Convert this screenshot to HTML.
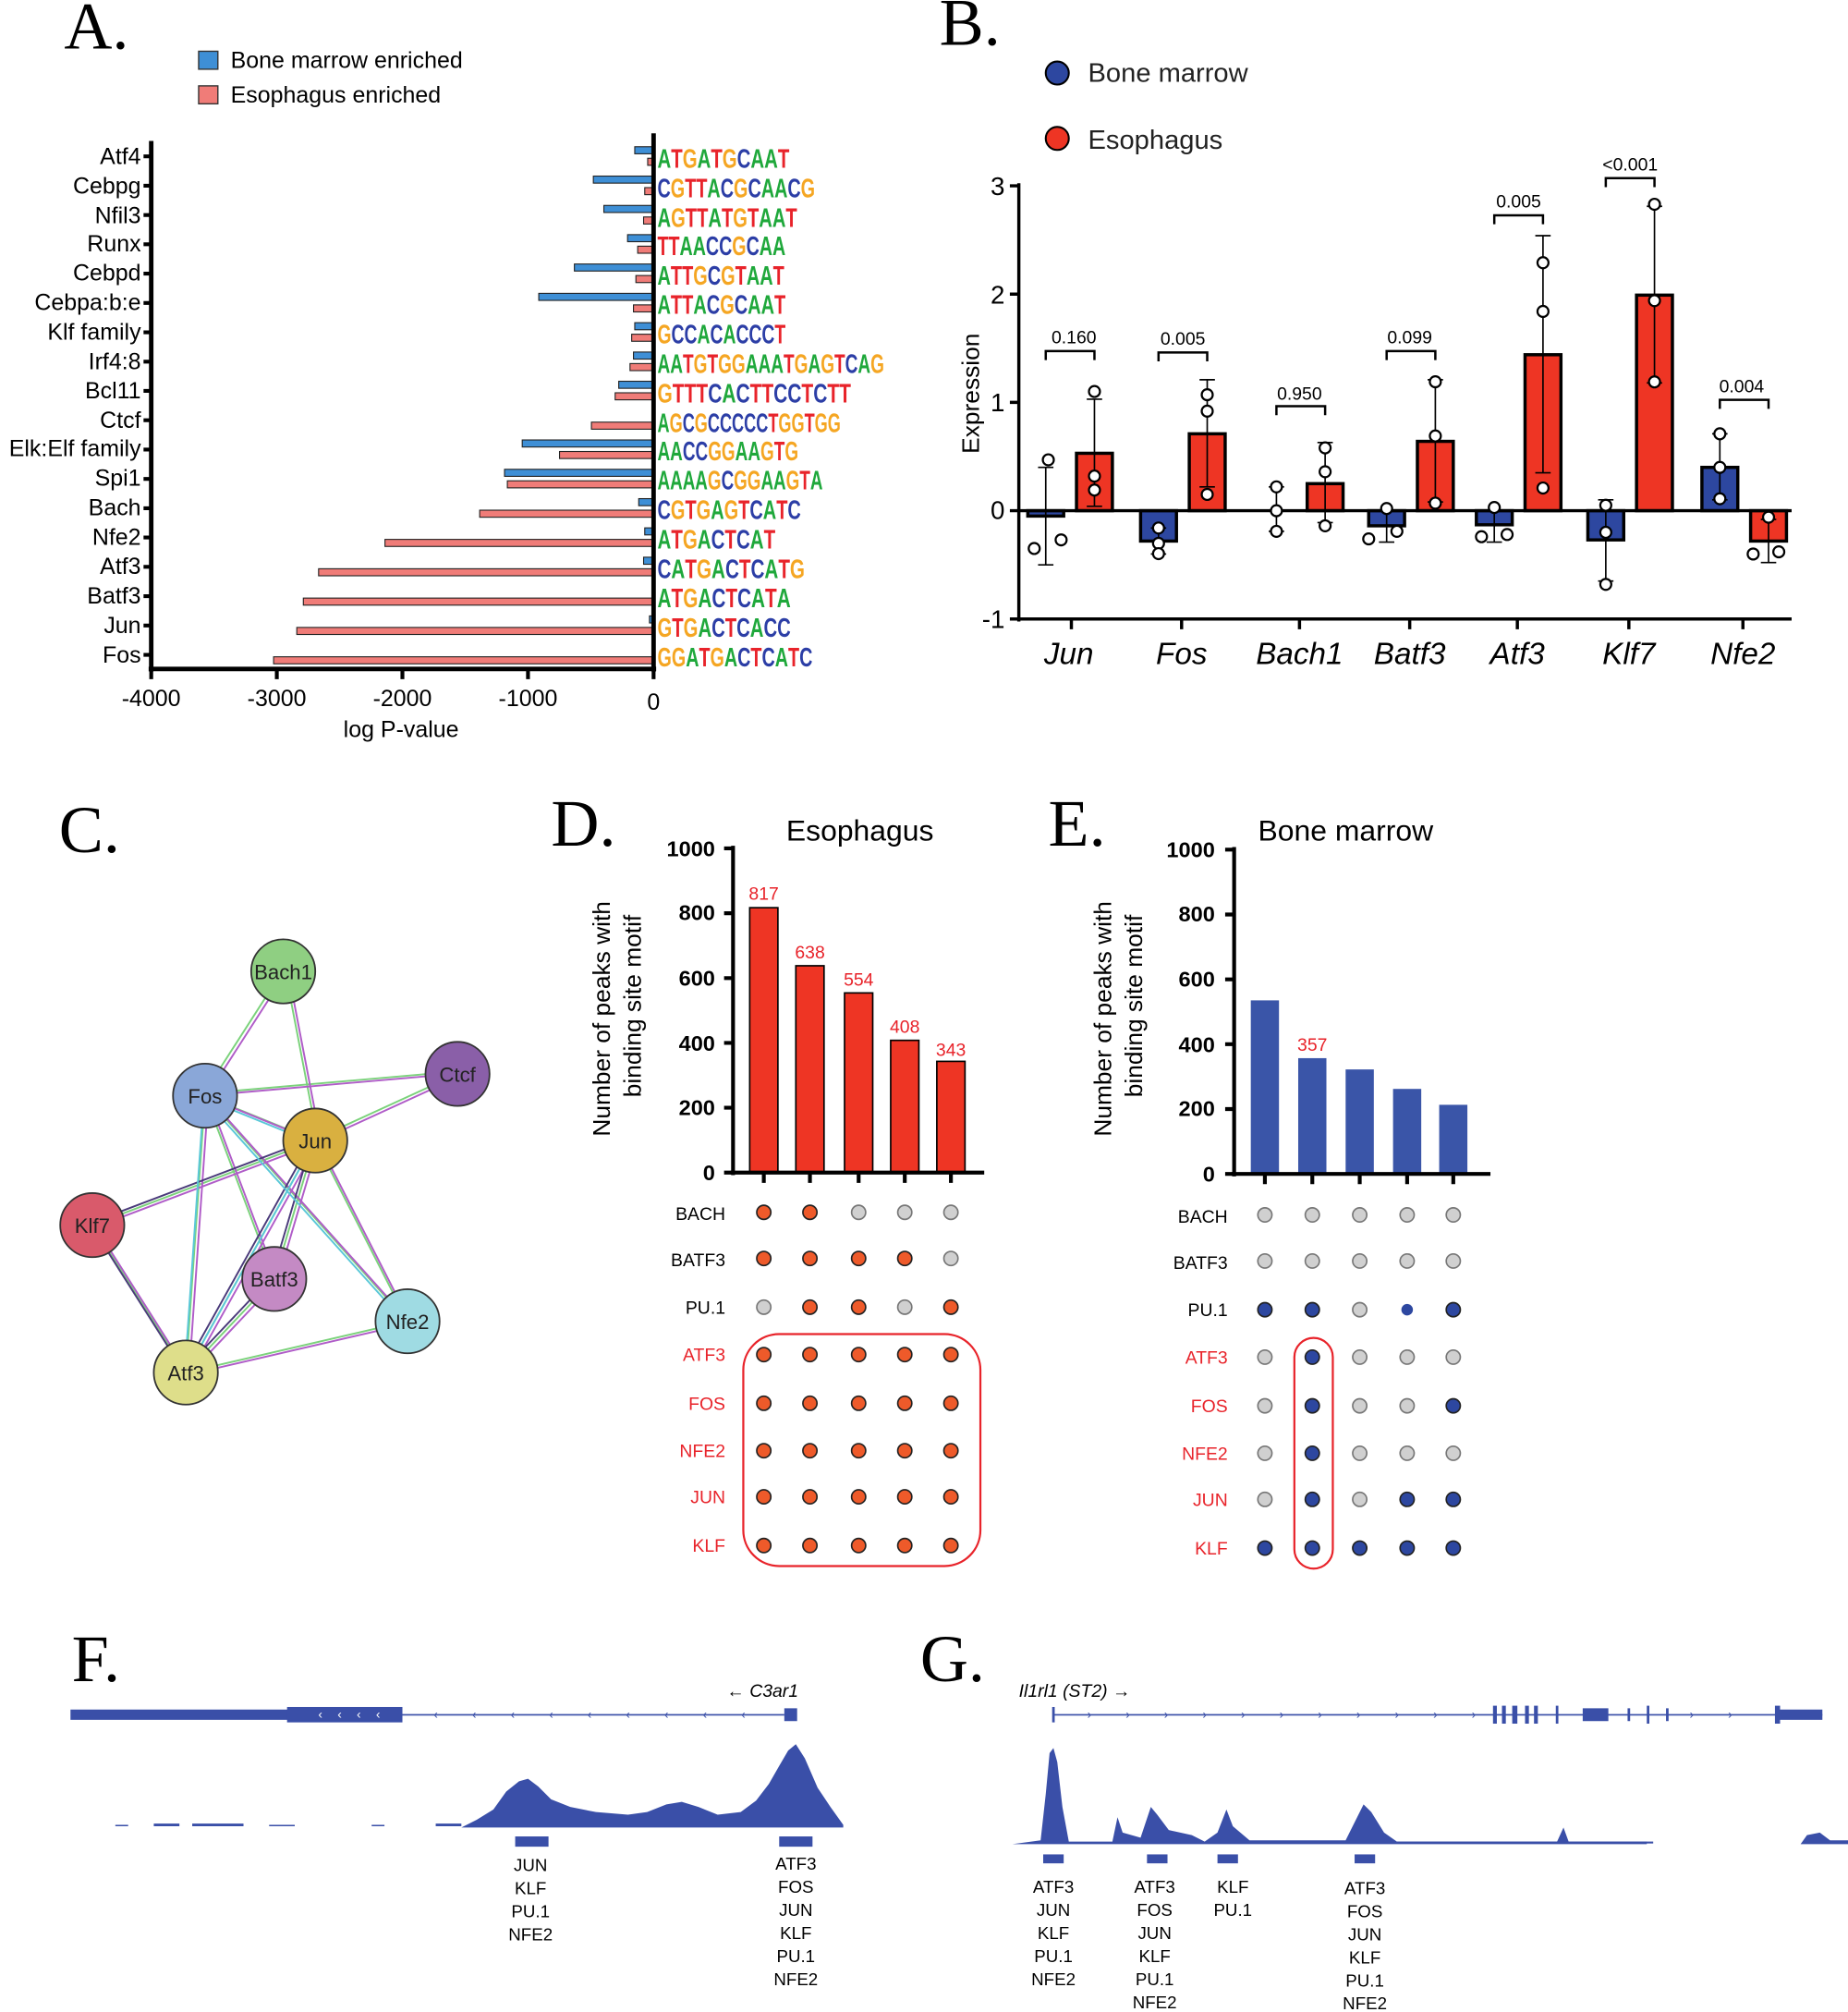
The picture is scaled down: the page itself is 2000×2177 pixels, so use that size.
<!DOCTYPE html>
<html><head><meta charset="utf-8"><style>
html,body{margin:0;padding:0;background:#fff}
svg{display:block}
text{font-family:"Liberation Sans",Arial,sans-serif}
.serif{font-family:"Liberation Serif",serif}
</style></head><body>
<svg width="2000" height="2177" viewBox="0 0 1442 1570" preserveAspectRatio="none" xmlns="http://www.w3.org/2000/svg">
<rect width="1442" height="1570" fill="#fff"/>
<!-- ===== Panel A ===== -->
<text x="50" y="38" class="serif" font-size="52">A.</text>
<rect x="155" y="40" width="15" height="14" fill="#3e8fd6" stroke="#333"/>
<text x="180" y="53" font-size="18">Bone marrow enriched</text>
<rect x="155" y="67" width="15" height="14" fill="#f07c78" stroke="#333"/>
<text x="180" y="80" font-size="18">Esophagus enriched</text>
<g stroke="#222" stroke-width="0.8">
<g fill="#3e8fd6">
<rect x="495.3" y="114.5" width="14.7" height="5.5"/>
<rect x="463" y="137.4" width="47" height="5.5"/>
<rect x="471.2" y="160.3" width="38.8" height="5.5"/>
<rect x="489.7" y="183.1" width="20.3" height="5.5"/>
<rect x="448.2" y="206" width="61.8" height="5.5"/>
<rect x="420.4" y="228.9" width="89.6" height="5.5"/>
<rect x="495.3" y="251.8" width="14.7" height="5.5"/>
<rect x="494.3" y="274.7" width="15.7" height="5.5"/>
<rect x="482.8" y="297.5" width="27.2" height="5.5"/>
<rect x="407.5" y="343.3" width="102.5" height="5.5"/>
<rect x="393.7" y="366.2" width="116.3" height="5.5"/>
<rect x="498.4" y="389.1" width="11.6" height="5.5"/>
<rect x="503.1" y="411.9" width="6.9" height="5.5"/>
<rect x="502.2" y="434.8" width="7.8" height="5.5"/>
<rect x="506.8" y="480.6" width="3.2" height="5.5"/>
</g>
<g fill="#f07c78">
<rect x="505.4" y="123.5" width="4.6" height="5.5"/>
<rect x="503.1" y="146.4" width="6.9" height="5.5"/>
<rect x="502.2" y="169.3" width="7.8" height="5.5"/>
<rect x="497.6" y="192.1" width="12.4" height="5.5"/>
<rect x="496.2" y="215" width="13.8" height="5.5"/>
<rect x="494.3" y="237.9" width="15.7" height="5.5"/>
<rect x="492.9" y="260.8" width="17.1" height="5.5"/>
<rect x="491.6" y="283.7" width="18.4" height="5.5"/>
<rect x="480" y="306.5" width="30" height="5.5"/>
<rect x="461.5" y="329.4" width="48.5" height="5.5"/>
<rect x="436.6" y="352.3" width="73.4" height="5.5"/>
<rect x="395.9" y="375.2" width="114.1" height="5.5"/>
<rect x="374.3" y="398.1" width="135.7" height="5.5"/>
<rect x="300.4" y="420.9" width="209.6" height="5.5"/>
<rect x="248.6" y="443.8" width="261.4" height="5.5"/>
<rect x="236.7" y="466.7" width="273.3" height="5.5"/>
<rect x="231.6" y="489.6" width="278.4" height="5.5"/>
<rect x="213.5" y="512.5" width="296.5" height="5.5"/>
</g></g>
<g stroke="#000" stroke-width="3.5">
<line x1="118" y1="110" x2="118" y2="524"/>
<line x1="116" y1="522" x2="512" y2="522"/>
<line x1="510" y1="104" x2="510" y2="524"/>
</g>
<g stroke="#000" stroke-width="3">
<path d="M112 122h6M112 144.9h6M112 167.8h6M112 190.6h6M112 213.5h6M112 236.4h6M112 259.3h6M112 282.2h6M112 305h6M112 327.9h6M112 350.8h6M112 373.7h6M112 396.6h6M112 419.4h6M112 442.3h6M112 465.2h6M112 488.1h6M112 511h6"/>
<path d="M118 522v8M216 522v8M314 522v8M412 522v8M510 522v8"/>
</g>
<g font-size="18" text-anchor="end">
<text x="110" y="128">Atf4</text><text x="110" y="151">Cebpg</text><text x="110" y="174">Nfil3</text><text x="110" y="196">Runx</text><text x="110" y="219">Cebpd</text><text x="110" y="242">Cebpa:b:e</text><text x="110" y="265">Klf family</text><text x="110" y="288">Irf4:8</text><text x="110" y="311">Bcl11</text><text x="110" y="334">Ctcf</text><text x="110" y="356">Elk:Elf family</text><text x="110" y="379">Spi1</text><text x="110" y="402">Bach</text><text x="110" y="425">Nfe2</text><text x="110" y="448">Atf3</text><text x="110" y="471">Batf3</text><text x="110" y="494">Jun</text><text x="110" y="517">Fos</text>
</g>
<g font-size="18" text-anchor="middle">
<text x="118" y="551">-4000</text><text x="216" y="551">-3000</text><text x="314" y="551">-2000</text><text x="412" y="551">-1000</text><text x="510" y="554">0</text>
<text x="313" y="575">log P-value</text>
</g>
<!-- motif logos -->
<style>.lg{font-weight:bold;font-size:21px}.A{fill:#1fa83b}.C{fill:#2c3ea6}.G{fill:#f5a623}.T{fill:#e8232a}</style>
<g class="lg" lengthAdjust="spacingAndGlyphs">
<text x="513" y="131" textLength="103" lengthAdjust="spacingAndGlyphs"><tspan class="A">A</tspan><tspan class="T">T</tspan><tspan class="G">G</tspan><tspan class="A">A</tspan><tspan class="T">T</tspan><tspan class="G">G</tspan><tspan class="C">C</tspan><tspan class="A">AA</tspan><tspan class="T">T</tspan></text>
<text x="513" y="154" textLength="123" lengthAdjust="spacingAndGlyphs"><tspan class="C">C</tspan><tspan class="G">G</tspan><tspan class="T">TT</tspan><tspan class="A">A</tspan><tspan class="C">C</tspan><tspan class="G">G</tspan><tspan class="C">C</tspan><tspan class="A">AA</tspan><tspan class="C">C</tspan><tspan class="G">G</tspan></text>
<text x="513" y="177" textLength="109" lengthAdjust="spacingAndGlyphs"><tspan class="A">A</tspan><tspan class="G">G</tspan><tspan class="T">TT</tspan><tspan class="A">A</tspan><tspan class="T">T</tspan><tspan class="G">G</tspan><tspan class="T">T</tspan><tspan class="A">AA</tspan><tspan class="T">T</tspan></text>
<text x="513" y="199" textLength="100" lengthAdjust="spacingAndGlyphs"><tspan class="T">TT</tspan><tspan class="A">AA</tspan><tspan class="C">CC</tspan><tspan class="G">G</tspan><tspan class="C">C</tspan><tspan class="A">AA</tspan></text>
<text x="513" y="222" textLength="99" lengthAdjust="spacingAndGlyphs"><tspan class="A">A</tspan><tspan class="T">TT</tspan><tspan class="G">G</tspan><tspan class="C">C</tspan><tspan class="G">G</tspan><tspan class="T">T</tspan><tspan class="A">AA</tspan><tspan class="T">T</tspan></text>
<text x="513" y="245" textLength="100" lengthAdjust="spacingAndGlyphs"><tspan class="A">A</tspan><tspan class="T">TT</tspan><tspan class="A">A</tspan><tspan class="C">C</tspan><tspan class="G">G</tspan><tspan class="C">C</tspan><tspan class="A">AA</tspan><tspan class="T">T</tspan></text>
<text x="513" y="268" textLength="100" lengthAdjust="spacingAndGlyphs"><tspan class="G">G</tspan><tspan class="C">CC</tspan><tspan class="A">A</tspan><tspan class="C">C</tspan><tspan class="A">A</tspan><tspan class="C">CCC</tspan><tspan class="T">T</tspan></text>
<text x="513" y="291" textLength="177" lengthAdjust="spacingAndGlyphs"><tspan class="A">AA</tspan><tspan class="T">T</tspan><tspan class="G">G</tspan><tspan class="T">T</tspan><tspan class="G">GG</tspan><tspan class="A">AAA</tspan><tspan class="T">T</tspan><tspan class="G">G</tspan><tspan class="A">A</tspan><tspan class="G">G</tspan><tspan class="T">T</tspan><tspan class="C">C</tspan><tspan class="A">A</tspan><tspan class="G">G</tspan></text>
<text x="513" y="314" textLength="151" lengthAdjust="spacingAndGlyphs"><tspan class="G">G</tspan><tspan class="T">TTT</tspan><tspan class="C">C</tspan><tspan class="A">A</tspan><tspan class="C">C</tspan><tspan class="T">TT</tspan><tspan class="C">CC</tspan><tspan class="T">T</tspan><tspan class="C">C</tspan><tspan class="T">TT</tspan></text>
<text x="513" y="337" textLength="143" lengthAdjust="spacingAndGlyphs"><tspan class="A">A</tspan><tspan class="G">G</tspan><tspan class="C">C</tspan><tspan class="G">G</tspan><tspan class="C">CCCC</tspan><tspan class="C">C</tspan><tspan class="T">T</tspan><tspan class="G">GG</tspan><tspan class="T">T</tspan><tspan class="G">GG</tspan></text>
<text x="513" y="359" textLength="110" lengthAdjust="spacingAndGlyphs"><tspan class="A">AA</tspan><tspan class="C">CC</tspan><tspan class="G">GG</tspan><tspan class="A">AA</tspan><tspan class="G">G</tspan><tspan class="T">T</tspan><tspan class="G">G</tspan></text>
<text x="513" y="382" textLength="129" lengthAdjust="spacingAndGlyphs"><tspan class="A">AAAA</tspan><tspan class="G">G</tspan><tspan class="C">C</tspan><tspan class="G">GG</tspan><tspan class="A">AA</tspan><tspan class="G">G</tspan><tspan class="T">T</tspan><tspan class="A">A</tspan></text>
<text x="513" y="405" textLength="112" lengthAdjust="spacingAndGlyphs"><tspan class="C">C</tspan><tspan class="G">G</tspan><tspan class="T">T</tspan><tspan class="G">G</tspan><tspan class="A">A</tspan><tspan class="G">G</tspan><tspan class="T">T</tspan><tspan class="C">C</tspan><tspan class="A">A</tspan><tspan class="T">T</tspan><tspan class="C">C</tspan></text>
<text x="513" y="428" textLength="92" lengthAdjust="spacingAndGlyphs"><tspan class="A">A</tspan><tspan class="T">T</tspan><tspan class="G">G</tspan><tspan class="A">A</tspan><tspan class="C">C</tspan><tspan class="T">T</tspan><tspan class="C">C</tspan><tspan class="A">A</tspan><tspan class="T">T</tspan></text>
<text x="513" y="451" textLength="115" lengthAdjust="spacingAndGlyphs"><tspan class="C">C</tspan><tspan class="A">A</tspan><tspan class="T">T</tspan><tspan class="G">G</tspan><tspan class="A">A</tspan><tspan class="C">C</tspan><tspan class="T">T</tspan><tspan class="C">C</tspan><tspan class="A">A</tspan><tspan class="T">T</tspan><tspan class="G">G</tspan></text>
<text x="513" y="474" textLength="104" lengthAdjust="spacingAndGlyphs"><tspan class="A">A</tspan><tspan class="T">T</tspan><tspan class="G">G</tspan><tspan class="A">A</tspan><tspan class="C">C</tspan><tspan class="T">T</tspan><tspan class="C">C</tspan><tspan class="A">A</tspan><tspan class="T">T</tspan><tspan class="A">A</tspan></text>
<text x="513" y="497" textLength="104" lengthAdjust="spacingAndGlyphs"><tspan class="G">G</tspan><tspan class="T">T</tspan><tspan class="G">G</tspan><tspan class="A">A</tspan><tspan class="C">C</tspan><tspan class="T">T</tspan><tspan class="C">C</tspan><tspan class="A">A</tspan><tspan class="C">CC</tspan></text>
<text x="513" y="520" textLength="121" lengthAdjust="spacingAndGlyphs"><tspan class="G">GG</tspan><tspan class="A">A</tspan><tspan class="T">T</tspan><tspan class="G">G</tspan><tspan class="A">A</tspan><tspan class="C">C</tspan><tspan class="T">T</tspan><tspan class="C">C</tspan><tspan class="A">A</tspan><tspan class="T">T</tspan><tspan class="C">C</tspan></text>
</g>

<!-- ===== Panel B ===== -->
<text x="733" y="35" class="serif" font-size="52">B.</text>
<circle cx="825" cy="57" r="9" fill="#2d47a0" stroke="#000" stroke-width="1.5"/>
<text x="849" y="64" font-size="21" fill="#222">Bone marrow</text>
<circle cx="825" cy="108" r="9" fill="#ee3524" stroke="#000" stroke-width="1.5"/>
<text x="849" y="116" font-size="21" fill="#222">Esophagus</text>
<g stroke="#000" stroke-width="2.5" fill="#2d47a0">
<rect x="802" y="398.5" width="28" height="4.2"/>
<rect x="890" y="398.5" width="28" height="23.7"/>
<rect x="1068" y="398.5" width="28" height="11.8"/>
<rect x="1152" y="398.5" width="28" height="11"/>
<rect x="1239" y="398.5" width="28" height="22.8"/>
<rect x="1328" y="364.7" width="28" height="33.8"/>
</g>
<g stroke="#000" stroke-width="2.5" fill="#ee3524">
<rect x="840" y="353.7" width="28" height="44.8"/>
<rect x="928" y="338.5" width="28" height="60"/>
<rect x="1020" y="377.4" width="28" height="21.1"/>
<rect x="1106" y="344.4" width="28" height="54.1"/>
<rect x="1190" y="276.8" width="28" height="121.7"/>
<rect x="1277" y="230.3" width="28" height="168.2"/>
<rect x="1366" y="398.5" width="28" height="23.7"/>
</g>
<g stroke="#000" stroke-width="2.5">
<line x1="795" y1="143" x2="795" y2="485"/>
<line x1="793" y1="483" x2="1398" y2="483"/>
<line x1="795" y1="398.5" x2="1398" y2="398.5"/>
<path d="M788 145h7M788 229.5h7M788 314h7M788 398.5h7M788 483h7"/>
<path d="M836 483v8M922 483v8M1014 483v8M1100 483v8M1184 483v8M1271 483v8M1360 483v8"/>
</g>
<g font-size="20" text-anchor="end">
<text x="784" y="152">3</text><text x="784" y="237">2</text><text x="784" y="321">1</text><text x="784" y="405">0</text><text x="784" y="490">-1</text>
</g>
<text x="764" y="307" font-size="19" text-anchor="middle" transform="rotate(-90 764 307)">Expression</text>
<g font-size="24" font-style="italic" text-anchor="middle">
<text x="834" y="518">Jun</text><text x="922" y="518">Fos</text><text x="1014" y="518">Bach1</text><text x="1100" y="518">Batf3</text><text x="1184" y="518">Atf3</text><text x="1271" y="518">Klf7</text><text x="1360" y="518">Nfe2</text>
</g>
<g stroke="#000" stroke-width="1.2" fill="none">
<path d="M816 440.8V364.7M810 440.8h12M810 364.7h12"/>
<path d="M854 395.1V311.5M848 395.1h12M848 311.5h12"/>
<path d="M904 432.3V412M898 432.3h12M898 412h12"/>
<path d="M942 379.9V296.3M936 379.9h12M936 296.3h12"/>
<path d="M996 414.6V379.9M990 414.6h12M990 379.9h12"/>
<path d="M1034 407.8V345.3M1028 407.8h12M1028 345.3h12"/>
<path d="M1082 423V398.5M1076 423h12"/>
<path d="M1120 391.7V296.3M1114 391.7h12M1114 296.3h12"/>
<path d="M1166 423V398.5M1160 423h12"/>
<path d="M1204 368.9V183.9M1198 368.9h12M1198 183.9h12"/>
<path d="M1253 453.4V390M1247 453.4h12M1247 390h12"/>
<path d="M1291 298.8V161M1285 298.8h12M1285 161h12"/>
<path d="M1342 390V338.5M1336 390h12M1336 338.5h12"/>
<path d="M1380 439V405.3M1374 439h12M1374 405.3h12"/>
</g>
<g stroke="#000" stroke-width="1.6" fill="#fff">
<circle cx="818" cy="358.8" r="4.3"/><circle cx="807" cy="428" r="4.3"/><circle cx="828" cy="421.3" r="4.3"/>
<circle cx="854" cy="305.5" r="4.3"/><circle cx="854" cy="371.5" r="4.3"/><circle cx="854" cy="382.4" r="4.3"/>
<circle cx="904" cy="412" r="4.3"/><circle cx="904" cy="424" r="4.3"/><circle cx="904" cy="432" r="4.3"/>
<circle cx="942" cy="308" r="4.3"/><circle cx="942" cy="320.8" r="4.3"/><circle cx="942" cy="385.8" r="4.3"/>
<circle cx="996" cy="379.9" r="4.3"/><circle cx="996" cy="398.5" r="4.3"/><circle cx="996" cy="414.6" r="4.3"/>
<circle cx="1034" cy="349.5" r="4.3"/><circle cx="1034" cy="368.1" r="4.3"/><circle cx="1034" cy="410.3" r="4.3"/>
<circle cx="1082" cy="396.8" r="4.3"/><circle cx="1068" cy="420.5" r="4.3"/><circle cx="1090" cy="414.6" r="4.3"/>
<circle cx="1120" cy="297.9" r="4.3"/><circle cx="1120" cy="340.2" r="4.3"/><circle cx="1120" cy="392.6" r="4.3"/>
<circle cx="1166" cy="396" r="4.3"/><circle cx="1156" cy="418.8" r="4.3"/><circle cx="1176" cy="417.1" r="4.3"/>
<circle cx="1204" cy="205" r="4.3"/><circle cx="1204" cy="243" r="4.3"/><circle cx="1204" cy="380.8" r="4.3"/>
<circle cx="1253" cy="394.3" r="4.3"/><circle cx="1253" cy="415.4" r="4.3"/><circle cx="1253" cy="456" r="4.3"/>
<circle cx="1291" cy="159.4" r="4.3"/><circle cx="1291" cy="234.6" r="4.3"/><circle cx="1291" cy="298" r="4.3"/>
<circle cx="1342" cy="338.5" r="4.3"/><circle cx="1342" cy="364.7" r="4.3"/><circle cx="1342" cy="389.2" r="4.3"/>
<circle cx="1380" cy="403.6" r="4.3"/><circle cx="1368" cy="432.3" r="4.3"/><circle cx="1388" cy="430.6" r="4.3"/>
</g>
<g stroke="#000" stroke-width="1.8" fill="none">
<path d="M816 281v-7h38v7"/><path d="M904 282v-7h38v7"/><path d="M996 324v-7h38v7"/><path d="M1082 281v-7h38v7"/><path d="M1166 175v-7h38v7"/><path d="M1253 146v-7h38v7"/><path d="M1342 319v-7h38v7"/>
</g>
<g font-size="14" text-anchor="middle">
<text x="838" y="268">0.160</text><text x="923" y="269">0.005</text><text x="1014" y="312">0.950</text><text x="1100" y="268">0.099</text><text x="1185" y="162">0.005</text><text x="1272" y="133">&lt;0.001</text><text x="1359" y="306">0.004</text>
</g>

<!-- ===== Panel C ===== -->
<text x="46" y="665" class="serif" font-size="52">C.</text>
<g fill="none" stroke-width="1.4">
<g stroke="#7bd27b">
<path d="M219 760L158 855M223 760L248 890M162 853L357 836M248 888L357 838M160 855L246 890M160 855L214 998M160 855L145 1071M160 855L318 1031M246 890L72 956M246 890L214 998M246 890L145 1071M246 890L318 1031M72 956L145 1071M214 998L145 1071M145 1071L318 1031"/>
</g>
<g stroke="#b05cc8" transform="translate(2.5,1.5)">
<path d="M219 760L158 855M223 760L248 890M162 853L357 836M248 888L357 838M160 855L246 890M160 855L214 998M160 855L145 1071M160 855L318 1031M246 890L72 956M246 890L214 998M246 890L145 1071M246 890L318 1031M72 956L145 1071M214 998L145 1071M145 1071L318 1031"/>
</g>
<g stroke="#4a3a7a" transform="translate(-2,-1.5)">
<path d="M246 890L72 956M246 890L214 998M246 890L145 1071M72 956L145 1071M214 998L145 1071"/>
</g>
<g stroke="#5ac8d8" transform="translate(-1,2)">
<path d="M160 855L246 890M160 855L145 1071M246 890L145 1071M160 855L318 1031"/>
</g>
</g>
<g stroke="#333" stroke-width="1.3" font-size="16" text-anchor="middle">
<circle cx="221" cy="758" r="25" fill="#8fcf82"/>
<circle cx="357" cy="838" r="25" fill="#8a5fa8"/>
<circle cx="160" cy="855" r="25" fill="#8aa7d8"/>
<circle cx="246" cy="890" r="25" fill="#d9b040"/>
<circle cx="72" cy="956" r="25" fill="#d95a6b"/>
<circle cx="214" cy="998" r="25" fill="#c48ac4"/>
<circle cx="318" cy="1031" r="25" fill="#9fdbe3"/>
<circle cx="145" cy="1071" r="25" fill="#dede8a"/>
</g>
<g font-size="16" text-anchor="middle" fill="#222">
<text x="221" y="764">Bach1</text><text x="357" y="844">Ctcf</text><text x="160" y="861">Fos</text><text x="246" y="896">Jun</text><text x="72" y="962">Klf7</text><text x="214" y="1004">Batf3</text><text x="318" y="1037">Nfe2</text><text x="145" y="1077">Atf3</text>
</g>

<!-- ===== Panel D ===== -->
<text x="430" y="660" class="serif" font-size="52">D.</text>
<text x="671" y="656" font-size="23" text-anchor="middle">Esophagus</text>
<text x="476" y="795" font-size="19" text-anchor="middle" transform="rotate(-90 476 795)">Number of peaks with</text>
<text x="500" y="785" font-size="19" text-anchor="middle" transform="rotate(-90 500 785)">binding site motif</text>
<g font-size="17" font-weight="bold" text-anchor="end">
<text x="558" y="668">1000</text><text x="558" y="718">800</text><text x="558" y="769">600</text><text x="558" y="820">400</text><text x="558" y="870">200</text><text x="558" y="921">0</text>
</g>
<g fill="#ee3524" stroke="#000" stroke-width="1.2">
<rect x="585" y="708.3" width="22" height="206.7"/>
<rect x="621" y="753.6" width="22" height="161.4"/>
<rect x="659" y="774.8" width="22" height="140.2"/>
<rect x="695" y="811.8" width="22" height="103.2"/>
<rect x="731" y="828.2" width="22" height="86.8"/>
</g>
<g font-size="14" fill="#e8232a" text-anchor="middle">
<text x="596" y="702">817</text><text x="632" y="748">638</text><text x="670" y="769">554</text><text x="706" y="806">408</text><text x="742" y="824">343</text>
</g>
<g stroke="#000" stroke-width="3">
<line x1="572" y1="660" x2="572" y2="917"/><line x1="570" y1="915" x2="768" y2="915"/>
<path d="M565 662h7M565 712.6h7M565 763.2h7M565 813.8h7M565 864.4h7M565 915h7M596 915v8M632 915v8M670 915v8M706 915v8M742 915v8"/>
</g>
<g font-size="14" text-anchor="end">
<text x="566" y="952">BACH</text><text x="566" y="988">BATF3</text><text x="566" y="1025">PU.1</text>
<g fill="#e8232a"><text x="566" y="1062">ATF3</text><text x="566" y="1100">FOS</text><text x="566" y="1137">NFE2</text><text x="566" y="1173">JUN</text><text x="566" y="1211">KLF</text></g>
</g>
<g stroke="#222" stroke-width="1.2">
<g fill="#ee5a2a">
<circle cx="596" cy="946" r="5.5"/><circle cx="632" cy="946" r="5.5"/>
<circle cx="596" cy="982" r="5.5"/><circle cx="632" cy="982" r="5.5"/><circle cx="670" cy="982" r="5.5"/><circle cx="706" cy="982" r="5.5"/>
<circle cx="632" cy="1020" r="5.5"/><circle cx="670" cy="1020" r="5.5"/><circle cx="742" cy="1020" r="5.5"/>
<circle cx="596" cy="1057" r="5.5"/><circle cx="632" cy="1057" r="5.5"/><circle cx="670" cy="1057" r="5.5"/><circle cx="706" cy="1057" r="5.5"/><circle cx="742" cy="1057" r="5.5"/>
<circle cx="596" cy="1095" r="5.5"/><circle cx="632" cy="1095" r="5.5"/><circle cx="670" cy="1095" r="5.5"/><circle cx="706" cy="1095" r="5.5"/><circle cx="742" cy="1095" r="5.5"/>
<circle cx="596" cy="1132" r="5.5"/><circle cx="632" cy="1132" r="5.5"/><circle cx="670" cy="1132" r="5.5"/><circle cx="706" cy="1132" r="5.5"/><circle cx="742" cy="1132" r="5.5"/>
<circle cx="596" cy="1168" r="5.5"/><circle cx="632" cy="1168" r="5.5"/><circle cx="670" cy="1168" r="5.5"/><circle cx="706" cy="1168" r="5.5"/><circle cx="742" cy="1168" r="5.5"/>
<circle cx="596" cy="1206" r="5.5"/><circle cx="632" cy="1206" r="5.5"/><circle cx="670" cy="1206" r="5.5"/><circle cx="706" cy="1206" r="5.5"/><circle cx="742" cy="1206" r="5.5"/>
</g>
<g fill="#d0d0d0" stroke="#777">
<circle cx="670" cy="946" r="5.5"/><circle cx="706" cy="946" r="5.5"/><circle cx="742" cy="946" r="5.5"/>
<circle cx="742" cy="982" r="5.5"/><circle cx="596" cy="1020" r="5.5"/><circle cx="706" cy="1020" r="5.5"/>
</g></g>
<rect x="580" y="1041" width="185" height="181" rx="28" fill="none" stroke="#e8232a" stroke-width="1.6"/>

<!-- ===== Panel E ===== -->
<text x="818" y="660" class="serif" font-size="52">E.</text>
<text x="1050" y="656" font-size="23" text-anchor="middle">Bone marrow</text>
<text x="867" y="795" font-size="19" text-anchor="middle" transform="rotate(-90 867 795)">Number of peaks with</text>
<text x="891" y="785" font-size="19" text-anchor="middle" transform="rotate(-90 891 785)">binding site motif</text>
<g font-size="17" font-weight="bold" text-anchor="end">
<text x="948" y="669">1000</text><text x="948" y="719">800</text><text x="948" y="770">600</text><text x="948" y="821">400</text><text x="948" y="871">200</text><text x="948" y="922">0</text>
</g>
<g fill="#3a55a8">
<rect x="976" y="780.6" width="22" height="135.4"/>
<rect x="1013" y="825.7" width="22" height="90.3"/>
<rect x="1050" y="834.5" width="22" height="81.5"/>
<rect x="1087" y="849.7" width="22" height="66.3"/>
<rect x="1123" y="862.1" width="22" height="53.9"/>
</g>
<text x="1024" y="820" font-size="14" fill="#e8232a" text-anchor="middle">357</text>
<g stroke="#000" stroke-width="3">
<line x1="963" y1="661" x2="963" y2="918"/><line x1="961" y1="916" x2="1163" y2="916"/>
<path d="M956 663h7M956 713.6h7M956 764.2h7M956 814.8h7M956 865.4h7M956 916h7M987 916v8M1024 916v8M1061 916v8M1098 916v8M1134 916v8"/>
</g>
<g font-size="14" text-anchor="end">
<text x="958" y="954">BACH</text><text x="958" y="990">BATF3</text><text x="958" y="1027">PU.1</text>
<g fill="#e8232a"><text x="958" y="1064">ATF3</text><text x="958" y="1102">FOS</text><text x="958" y="1139">NFE2</text><text x="958" y="1175">JUN</text><text x="958" y="1213">KLF</text></g>
</g>
<g stroke="#222" stroke-width="1.2">
<g fill="#d0d0d0" stroke="#777">
<circle cx="987" cy="948" r="5.5"/><circle cx="1024" cy="948" r="5.5"/><circle cx="1061" cy="948" r="5.5"/><circle cx="1098" cy="948" r="5.5"/><circle cx="1134" cy="948" r="5.5"/>
<circle cx="987" cy="984" r="5.5"/><circle cx="1024" cy="984" r="5.5"/><circle cx="1061" cy="984" r="5.5"/><circle cx="1098" cy="984" r="5.5"/><circle cx="1134" cy="984" r="5.5"/>
<circle cx="1061" cy="1022" r="5.5"/>
<circle cx="987" cy="1059" r="5.5"/><circle cx="1061" cy="1059" r="5.5"/><circle cx="1098" cy="1059" r="5.5"/><circle cx="1134" cy="1059" r="5.5"/>
<circle cx="987" cy="1097" r="5.5"/><circle cx="1061" cy="1097" r="5.5"/><circle cx="1098" cy="1097" r="5.5"/>
<circle cx="987" cy="1134" r="5.5"/><circle cx="1061" cy="1134" r="5.5"/><circle cx="1098" cy="1134" r="5.5"/><circle cx="1134" cy="1134" r="5.5"/>
<circle cx="987" cy="1170" r="5.5"/><circle cx="1061" cy="1170" r="5.5"/>
</g>
<g fill="#2d47a0">
<circle cx="987" cy="1022" r="5.5"/><circle cx="1024" cy="1022" r="5.5"/><circle cx="1134" cy="1022" r="5.5"/>
<circle cx="1024" cy="1059" r="5.5"/>
<circle cx="1024" cy="1097" r="5.5"/><circle cx="1134" cy="1097" r="5.5"/>
<circle cx="1024" cy="1134" r="5.5"/>
<circle cx="1024" cy="1170" r="5.5"/><circle cx="1098" cy="1170" r="5.5"/><circle cx="1134" cy="1170" r="5.5"/>
<circle cx="987" cy="1208" r="5.5"/><circle cx="1024" cy="1208" r="5.5"/><circle cx="1061" cy="1208" r="5.5"/><circle cx="1098" cy="1208" r="5.5"/><circle cx="1134" cy="1208" r="5.5"/>
</g>
<circle cx="1098" cy="1022" r="4.5" fill="#2d47a0" stroke="none"/>
</g>
<rect x="1010" y="1044" width="30" height="180" rx="15" fill="none" stroke="#e8232a" stroke-width="1.6"/>

<!-- ===== Panel F ===== -->
<text x="56" y="1312" class="serif" font-size="52">F.</text>
<text x="567" y="1324" font-size="14" font-style="italic">← C3ar1</text>
<g fill="#3a4fa8" stroke="none">
<rect x="55" y="1334" width="170" height="8"/>
<rect x="224" y="1332" width="90" height="12"/>
<rect x="314" y="1337.5" width="298" height="1.2"/>
<rect x="612" y="1333" width="10" height="10"/>
<path d="M90 1425h10v-1h-10zM120 1425h20v-2h-20zM150 1425h40v-2h-40zM210 1425h20v-1h-20zM290 1425h10v-1h-10zM340 1425h20v-2h-20z"/>
<path d="M360 1426L372 1420L385 1412L395 1398L405 1390L412 1388L420 1394L430 1404L445 1410L465 1414L490 1416L505 1414L520 1408L532 1406L545 1410L560 1416L578 1414L590 1405L600 1392L608 1378L615 1366L621 1361L628 1372L638 1395L648 1410L658 1424L658 1426Z"/>
<rect x="402" y="1433" width="26" height="8"/>
<rect x="608" y="1433" width="26" height="8"/>
</g>
<g fill="#fff" font-size="10" text-anchor="middle"><text x="250" y="1341">‹</text><text x="265" y="1341">‹</text><text x="280" y="1341">‹</text><text x="295" y="1341">‹</text></g>
<g fill="#3a4fa8" font-size="10" text-anchor="middle"><text x="340" y="1341">‹</text><text x="370" y="1341">‹</text><text x="400" y="1341">‹</text><text x="430" y="1341">‹</text><text x="460" y="1341">‹</text><text x="490" y="1341">‹</text><text x="520" y="1341">‹</text><text x="550" y="1341">‹</text><text x="580" y="1341">‹</text></g>
<g font-size="13.5" text-anchor="middle">
<text x="414" y="1460">JUN</text><text x="414" y="1478">KLF</text><text x="414" y="1496">PU.1</text><text x="414" y="1514">NFE2</text>
<text x="621" y="1459">ATF3</text><text x="621" y="1477">FOS</text><text x="621" y="1495">JUN</text><text x="621" y="1513">KLF</text><text x="621" y="1531">PU.1</text><text x="621" y="1549">NFE2</text>
</g>

<!-- ===== Panel G ===== -->
<text x="718" y="1312" class="serif" font-size="52">G.</text>
<text x="795" y="1324" font-size="14" font-style="italic">Il1rl1 (ST2) →</text>
<g fill="#3a4fa8">
<rect x="822" y="1337.5" width="600" height="1.2"/>
<rect x="821" y="1332" width="2" height="12"/>
<rect x="1165" y="1331" width="3" height="14"/><rect x="1172" y="1331" width="3" height="14"/><rect x="1180" y="1331" width="4" height="14"/><rect x="1190" y="1331" width="3" height="14"/><rect x="1197" y="1331" width="3" height="14"/>
<rect x="1214" y="1331" width="2" height="14"/>
<rect x="1235" y="1333" width="20" height="10"/><rect x="1270" y="1333" width="2" height="10"/><rect x="1285" y="1331" width="2" height="14"/><rect x="1300" y="1333" width="2" height="10"/>
<rect x="1385" y="1331" width="4" height="14"/><rect x="1389" y="1334" width="33" height="8"/>
<path d="M790 1439L812 1436L816 1400L819 1368L822 1364L825 1375L829 1410L834 1437L868 1437L872 1418L876 1430L890 1434L898 1410L903 1416L912 1428L930 1432L940 1437L950 1430L957 1412L962 1425L975 1436L1050 1436L1058 1420L1064 1408L1070 1414L1080 1430L1090 1437L1215 1437L1220 1426L1224 1437L1285 1437L1285 1439Z"/>
<path d="M1405 1439L1410 1432L1420 1430L1428 1436L1442 1436L1442 1439Z"/>
<rect x="1090" y="1437" width="200" height="1.5"/>
<rect x="814" y="1447" width="16" height="7"/>
<rect x="895" y="1447" width="16" height="7"/>
<rect x="950" y="1447" width="16" height="7"/>
<rect x="1057" y="1447" width="16" height="7"/>
</g>
<g fill="#3a4fa8" font-size="10" text-anchor="middle"><text x="850" y="1341">›</text><text x="880" y="1341">›</text><text x="910" y="1341">›</text><text x="940" y="1341">›</text><text x="970" y="1341">›</text><text x="1000" y="1341">›</text><text x="1030" y="1341">›</text><text x="1060" y="1341">›</text><text x="1090" y="1341">›</text><text x="1120" y="1341">›</text><text x="1150" y="1341">›</text><text x="1320" y="1341">›</text><text x="1350" y="1341">›</text></g>
<g font-size="13.5" text-anchor="middle">
<text x="822" y="1477">ATF3</text><text x="822" y="1495">JUN</text><text x="822" y="1513">KLF</text><text x="822" y="1531">PU.1</text><text x="822" y="1549">NFE2</text>
<text x="901" y="1477">ATF3</text><text x="901" y="1495">FOS</text><text x="901" y="1513">JUN</text><text x="901" y="1531">KLF</text><text x="901" y="1549">PU.1</text><text x="901" y="1567">NFE2</text>
<text x="962" y="1477">KLF</text><text x="962" y="1495">PU.1</text>
<text x="1065" y="1478">ATF3</text><text x="1065" y="1496">FOS</text><text x="1065" y="1514">JUN</text><text x="1065" y="1532">KLF</text><text x="1065" y="1550">PU.1</text><text x="1065" y="1568">NFE2</text>
</g>
</svg>
</body></html>
